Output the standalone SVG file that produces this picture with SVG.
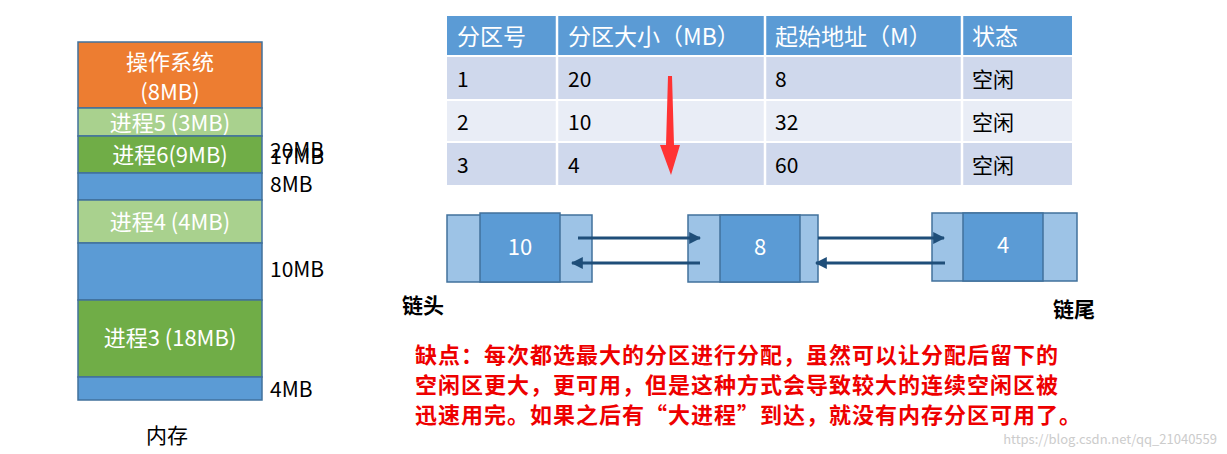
<svg xmlns="http://www.w3.org/2000/svg" width="1227" height="454" viewBox="0 0 1227 454">
<style>
text{font-family:"Noto Sans CJK SC","Liberation Sans",sans-serif}
.w{fill:#fff;font-size:22px}
.k{fill:#000;font-size:21px}
.h{fill:#fff;font-size:23px}
.c{fill:#000;font-size:21px}
.blk{stroke:#41719c;stroke-width:1.5}
.lt{fill:#9dc3e6;stroke:#41719c;stroke-width:1.5}
.dk{fill:#5b9bd5;stroke:#41719c;stroke-width:1.5}
.red{fill:#e00;font-size:22px;font-weight:bold;letter-spacing:1px}
</style>
<defs>
<marker id="a" viewBox="0 0 10 10" refX="9" refY="5" markerWidth="4" markerHeight="4" orient="auto"><path d="M0 0L10 5L0 10z" fill="#1f4e79"/></marker>
</defs>
<rect width="1227" height="454" fill="#fff"/>
<g id="memory">
<rect class="blk" x="78" y="42" width="184" height="66" fill="#ed7d31"/>
<text class="w" x="170" y="70" text-anchor="middle">操作系统</text>
<text class="w" x="170" y="100" text-anchor="middle">(8MB)</text>
<rect class="blk" x="78" y="108" width="184" height="28" fill="#a9d18e"/>
<text class="w" x="170" y="131" text-anchor="middle">进程5 (3MB)</text>
<rect class="blk" x="78" y="136" width="184" height="37" fill="#70ad47"/>
<text class="w" x="170" y="163" text-anchor="middle">进程6(9MB)</text>
<rect class="blk" x="78" y="173" width="184" height="27" fill="#5b9bd5"/>
<rect class="blk" x="78" y="200" width="184" height="43" fill="#a9d18e"/>
<text class="w" x="170" y="230" text-anchor="middle">进程4 (4MB)</text>
<rect class="blk" x="78" y="243" width="184" height="57" fill="#5b9bd5"/>
<rect class="blk" x="78" y="300" width="184" height="77" fill="#70ad47"/>
<text class="w" x="170" y="346" text-anchor="middle">进程3 (18MB)</text>
<rect class="blk" x="78" y="377" width="184" height="23" fill="#5b9bd5"/>
<text class="k" x="270" y="158">20MB</text>
<text class="k" x="270" y="164">17MB</text>
<text class="k" x="270" y="192">8MB</text>
<text class="k" x="270" y="277">10MB</text>
<text class="k" x="270" y="397">4MB</text>
<text class="k" x="167" y="443" text-anchor="middle">内存</text>
</g>
<g id="table">
<rect x="447" y="16" width="625" height="39" fill="#5b9bd5"/>
<rect x="447" y="57" width="625" height="42" fill="#cfd8ec"/>
<rect x="447" y="101" width="625" height="40" fill="#e9edf6"/>
<rect x="447" y="143" width="625" height="42" fill="#cfd8ec"/>
<g stroke="#fff" stroke-width="2.5"><line x1="557" y1="16" x2="557" y2="185"/><line x1="765" y1="16" x2="765" y2="185"/><line x1="962" y1="16" x2="962" y2="185"/></g>
<text class="h" x="457" y="45">分区号</text>
<text class="h" x="568" y="45">分区大小（MB）</text>
<text class="h" x="775" y="45">起始地址（M）</text>
<text class="h" x="972" y="45">状态</text>
<text class="c" x="457" y="87">1</text><text class="c" x="568" y="87">20</text><text class="c" x="775" y="87">8</text><text class="c" x="972" y="87">空闲</text>
<text class="c" x="457" y="130">2</text><text class="c" x="568" y="130">10</text><text class="c" x="775" y="130">32</text><text class="c" x="972" y="130">空闲</text>
<text class="c" x="457" y="173">3</text><text class="c" x="568" y="173">4</text><text class="c" x="775" y="173">60</text><text class="c" x="972" y="173">空闲</text>
<path d="M668 76L672 76L674 145L680 145L671 175L660 145L666 145z" fill="#f33"/>
</g>
<g id="node1">
<rect class="lt" x="447" y="215" width="145" height="67"/>
<rect class="dk" x="480" y="213" width="80" height="69"/>
<text class="w" x="520" y="255" text-anchor="middle">10</text>
</g>
<g id="node2">
<rect class="lt" x="688" y="215" width="130" height="67"/>
<rect class="dk" x="720" y="215" width="80" height="67"/>
<text class="w" x="760" y="255" text-anchor="middle">8</text>
</g>
<g id="node3">
<rect class="lt" x="932" y="213" width="145" height="68"/>
<rect class="dk" x="963" y="213" width="80" height="68"/>
<text class="w" x="1003" y="253" text-anchor="middle">4</text>
</g>
<g id="connectors" stroke="#1f4e79" stroke-width="3" marker-end="url(#a)">
<line x1="578" y1="238" x2="700" y2="238"/>
<line x1="700" y1="263" x2="572" y2="263"/>
<line x1="818" y1="238" x2="944" y2="238"/>
<line x1="945" y1="263" x2="816" y2="263"/>
</g>
<text class="k" x="402" y="313" font-weight="bold">链头</text>
<text class="k" x="1053" y="317" font-weight="bold">链尾</text>
<text class="red" x="415" y="363">缺点：每次都选最大的分区进行分配，虽然可以让分配后留下的</text>
<text class="red" x="415" y="393">空闲区更大，更可用，但是这种方式会导致较大的连续空闲区被</text>
<text class="red" x="415" y="423">迅速用完。如果之后有“大进程”到达，就没有内存分区可用了。</text>
<text x="1217" y="444" text-anchor="end" font-size="13" fill="#ccc">https://blog.csdn.net/qq_21040559</text>
</svg>
